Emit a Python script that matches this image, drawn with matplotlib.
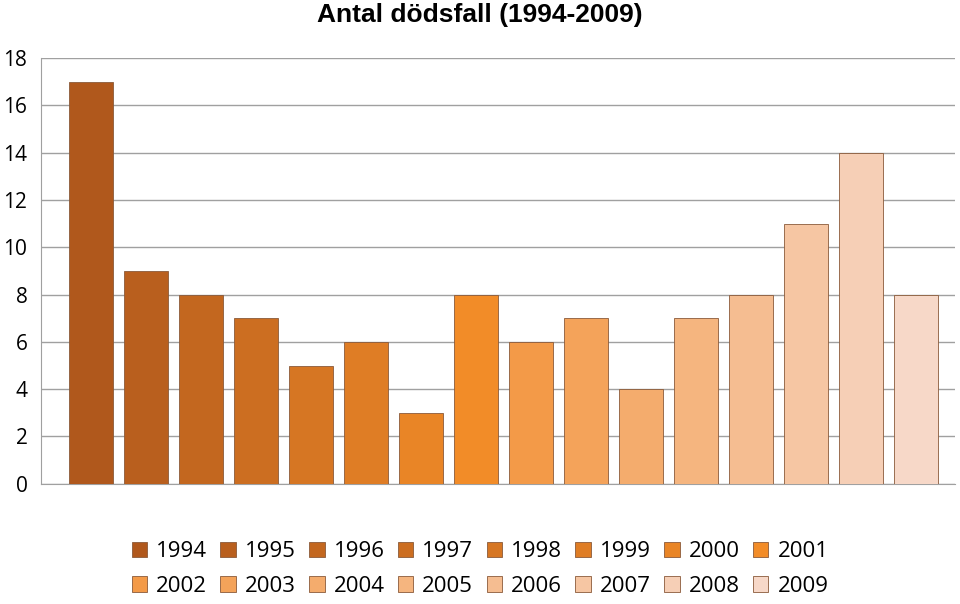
import matplotlib
matplotlib.use("Agg")
import matplotlib.pyplot as plt
import numpy as np
from matplotlib.colors import to_rgb
from matplotlib.patches import Patch

years = ["1994","1995","1996","1997","1998","1999","2000","2001",
         "2002","2003","2004","2005","2006","2007","2008","2009"]
deaths = [17, 9, 8, 7, 5, 6, 3, 8, 6, 7, 4, 7, 8, 11, 14, 8]
title = "Antal dödsfall (1994-2009)"

def blend(c1, c2, t):
    a, b = np.array(to_rgb(c1)), np.array(to_rgb(c2))
    return tuple(a + (b - a) * t)

colors = []
for i in range(16):
    if i <= 7:
        colors.append(blend("#B0581C", "#F28C28", i / 7))
    else:
        colors.append(blend("#F39A48", "#F7D8C8", (i - 8) / 7))

plt.rcParams["font.family"] = ["Open Sans", "DejaVu Sans"]
fig = plt.figure(figsize=(9.6, 6.04), dpi=100)
ax = fig.add_axes([0.043, 0.199, 0.952, 0.705])
x = np.arange(len(years))
ax.bar(x, deaths, width=0.8, color=colors, edgecolor="#8a5a3a", linewidth=0.6, zorder=3)
ax.set_xlim(-0.91, 15.71)
ax.set_ylim(0, 18)
ax.set_yticks(range(0, 19, 2))
ax.tick_params(axis="y", labelsize=15, length=0, pad=10)
ax.set_xticks([])
ax.grid(axis="y", color="#a0a0a0", linewidth=1, zorder=0)
for s in ["top", "right"]:
    ax.spines[s].set_visible(False)
ax.spines["left"].set_color("#a0a0a0")
ax.spines["bottom"].set_color("#a0a0a0")
fig.text(0.5, 0.975, title, ha="center", va="center", fontsize=19, fontweight="bold",
         family=["Liberation Sans Narrow", "Liberation Sans"])
handles = [Patch(facecolor=c, edgecolor="#8a5a3a", linewidth=0.6) for c in colors]
order = [k for pair in zip(range(8), range(8, 16)) for k in pair]
fig.legend([handles[k] for k in order], [years[k] for k in order],
           loc="center", bbox_to_anchor=(0.5, 0.058), ncol=8,
           frameon=False, fontsize=16, handlelength=0.7, handleheight=0.7,
           handletextpad=0.4, columnspacing=0.6, labelspacing=0.6)
fig.savefig("out.png", dpi=100)
